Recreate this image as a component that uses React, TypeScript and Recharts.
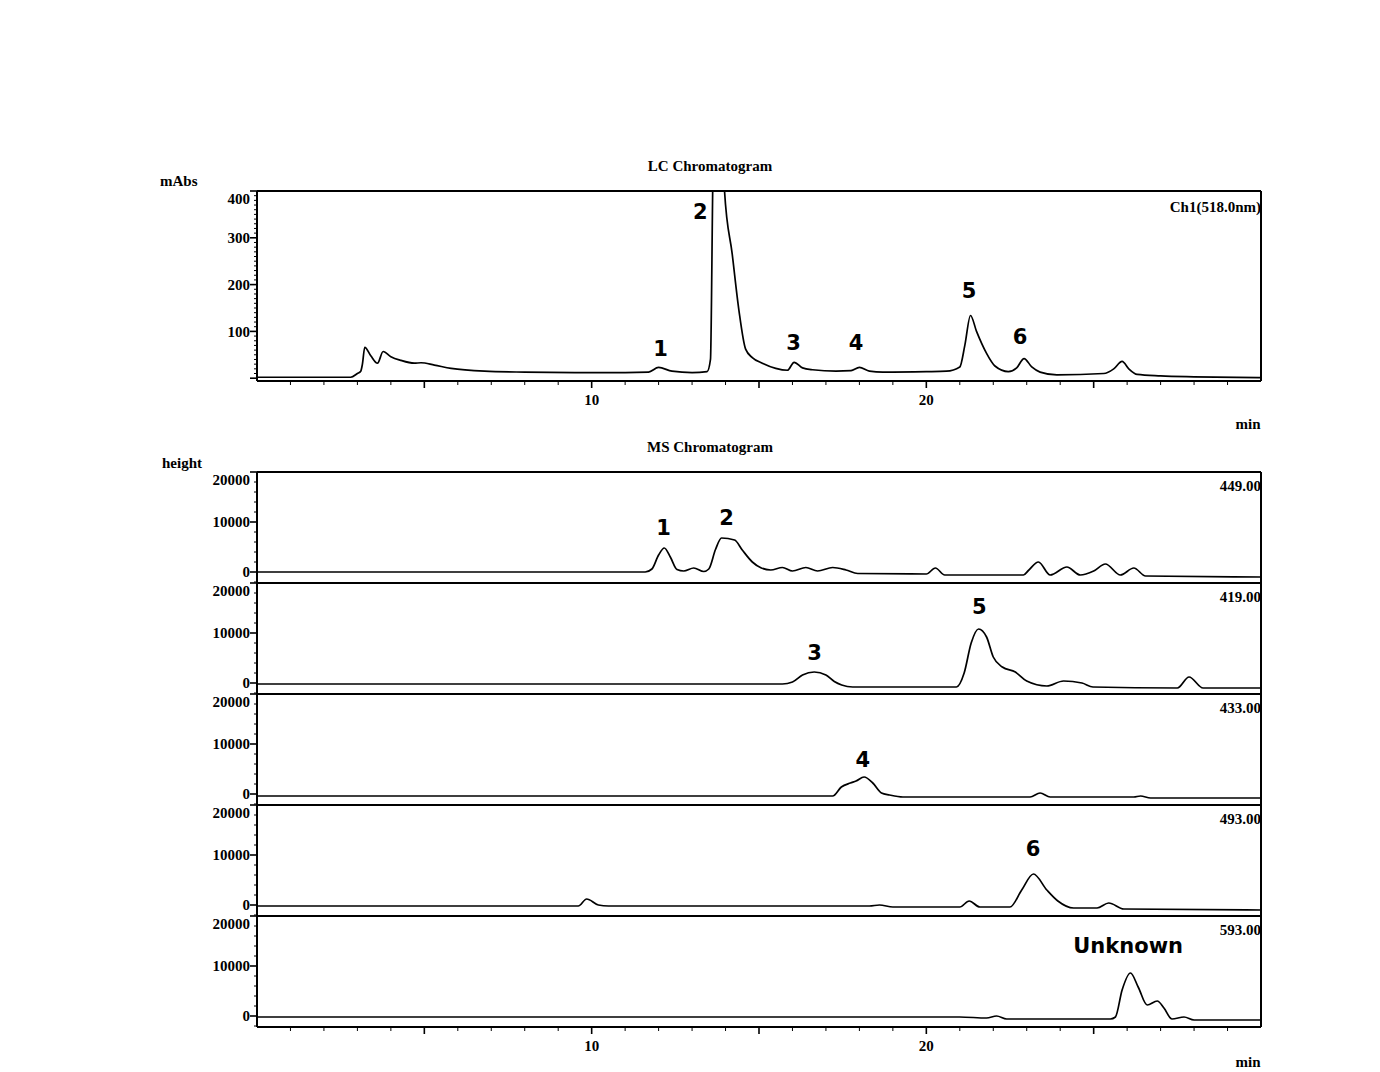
import React from "react";
import {
  LineChart,
  Line,
  XAxis,
  YAxis,
  ReferenceLine,
  ReferenceDot,
} from "recharts";

// LC trace, 518 nm (minutes / mAbs)
const lcTime = [
  0, 2.8, 3.0, 3.1, 3.15, 3.22, 3.4, 3.6, 3.77, 4.0, 4.3, 4.7, 4.9, 5.3, 5.8, 6.8, 8, 9.5, 11, 11.7,
  12.0, 12.4, 13.0, 13.45, 13.55, 13.62, 13.75, 13.85, 13.97, 14.2, 14.4, 14.6, 14.8, 15.1, 15.5,
  15.85, 16.05, 16.3, 16.6, 17.3, 17.75, 18.0, 18.3, 18.7, 20.0, 20.6, 21.0, 21.15, 21.32, 21.5,
  21.8, 22.05, 22.45, 22.7, 22.92, 23.15, 23.4, 23.9, 25.3, 25.6, 25.85, 26.05, 26.3, 27, 28, 30,
];
const lcAbs = [
  2, 2, 10, 15, 30, 66, 48, 32, 57, 46, 38, 32, 33, 28, 21, 15, 13, 12, 12, 13,
  23, 15, 12, 14, 40, 420, 850, 750, 400, 265, 145, 62, 44, 32, 21,
  17, 34, 22, 18, 15, 16, 23, 15, 13, 14, 15, 24, 70, 134, 100,
  53, 26, 14, 22, 42, 24, 13, 7, 10, 20, 36, 20, 8, 5, 3, 1,
];

// MS traces (minutes / height)
const ms449Time = [
  0, 11.6, 11.8, 12.0, 12.17, 12.35, 12.55, 12.75, 13.05, 13.35, 13.5, 13.7, 13.88, 14.27, 14.5,
  14.8, 15.07, 15.35, 15.7, 16.0, 16.4, 16.75, 17.2, 17.6, 17.95, 20.0, 20.27, 20.55, 22.9, 23.05,
  23.35, 23.7, 24.2, 24.6, 25.0, 25.35, 25.8, 26.2, 26.55, 30,
];
const ms449Height = [
  0, 0, 600, 3400, 4800, 3000, 500, 200, 800, 100, 600, 4500, 6800, 6400, 4400,
  2000, 800, 400, 900, 200, 900, 200, 900, 400, -300, -400, 800, -600, -600, 300,
  2000, -600, 1000, -600, 200, 1600, -600, 800, -800, -1000,
];

const ms419Time = [
  0, 15.7, 16.0, 16.3, 16.65, 17.0, 17.25, 17.47, 17.8, 20.9, 21.13, 21.34, 21.56, 21.8, 22.0,
  22.27, 22.66, 23.0, 23.6, 24.1, 24.65, 24.98, 27.5, 27.85, 28.27, 30,
];
const ms419Height = [
  -200, -200, 200, 1600, 2200, 1600, 300, -400, -800, -800, 2000, 8000, 10800, 9200, 5200,
  3200, 2200, 400, -600, 400, 0, -800, -1000, 1200, -1000, -1000,
];

const ms433Time = [
  0, 17.2, 17.46, 17.73, 17.9, 18.14, 18.4, 18.66, 18.9, 19.3, 23.1, 23.4, 23.7, 26.2, 26.4, 26.7, 30,
];
const ms433Height = [
  -400, -400, 1400, 2200, 2600, 3400, 2200, 200, -200, -600, -600, 200, -600, -600, -400, -800, -800,
];

const ms493Time = [
  0, 9.6, 9.85, 10.2, 10.5, 18.3, 18.6, 19.0, 21.0, 21.28, 21.6, 22.5, 22.85, 23.2, 23.6, 23.93,
  24.4, 25.1, 25.45, 25.9, 30,
];
const ms493Height = [
  -200, -200, 1200, 0, -200, -200, 0, -400, -400, 800, -400, -400, 3000, 6200, 3000, 800,
  -600, -600, 400, -800, -1000,
];

const ms593Time = [
  0, 21.0, 21.8, 22.1, 22.4, 25.5, 25.65, 25.85, 26.1, 26.33, 26.6, 26.9, 27.1, 27.34, 27.7, 28.0, 30,
];
const ms593Height = [
  -200, -200, -400, 0, -600, -600, -200, 5200, 8600, 5800, 2200, 3000, 1600, -600, -200, -800, -800,
];

// peak annotations: [label, time, level]
const lcPeaks: [string, number, number][] = [
  ["1", 12.06, 64],
  ["2", 13.25, 357],
  ["3", 16.03, 77],
  ["4", 17.9, 77],
  ["5", 21.28, 187],
  ["6", 22.8, 89],
];
const ms449Peaks: [string, number, number][] = [
  ["1", 12.15, 9000],
  ["2", 14.03, 11000],
];
const ms419Peaks: [string, number, number][] = [
  ["3", 16.66, 6200],
  ["5", 21.58, 15400],
];
const ms433Peaks: [string, number, number][] = [["4", 18.1, 7000]];
const ms493Peaks: [string, number, number][] = [["6", 23.19, 11400]];
const ms593Peaks: [string, number, number][] = [["Unknown", 26.03, 14200]];

const msChannels = ["449.00", "419.00", "433.00", "493.00", "593.00"];

const xLabels = [10, 20];
const lcYLabels = [100, 200, 300, 400];
const msYLabels = [0, 10000, 20000];

const xMinor = Array.from({ length: 29 }, (_, i) => i + 1);
const lcYMinor = Array.from({ length: 41 }, (_, i) => i * 10);
const msYMinor = Array.from({ length: 12 }, (_, i) => i * 2000 - 2000);

const SERIF = "'Liberation Serif', 'Times New Roman', serif";
const SANS = "'DejaVu Sans', Verdana, sans-serif";

const LC_TOP = 400;
const MS_TOP = 20000;
const PANEL_TOPS = [472, 583, 694, 805, 916];

const toRows = (t: number[], v: number[]) => t.map((x, i) => ({ t: x, v: v[i] }));

const makeYTick = (labels: number[], top: number, majorStep: number) => (props: any) => {
  const { x, y, payload } = props;
  const v = payload.value;
  const major = v % majorStep === 0;
  const show = labels.includes(v);
  return (
    <g>
      <line x1={x - (major ? 7 : 3)} x2={x} y1={y} y2={y} stroke="#000" strokeWidth={major ? 1.6 : 1} />
      {show && (
        <text
          x={x - 7}
          y={v === top ? y + 8 : y}
          dy="0.35em"
          textAnchor="end"
          fontFamily={SERIF}
          fontWeight="bold"
          fontSize={15}
          fill="#000"
        >
          {v}
        </text>
      )}
    </g>
  );
};

const XTick = (props: any) => {
  const { x, y, payload } = props;
  const v = payload.value;
  const major = v % 5 === 0;
  return (
    <g>
      <line x1={x} x2={x} y1={y} y2={y + (major ? 7 : 4)} stroke="#000" strokeWidth={major ? 1.6 : 1} />
      {xLabels.includes(v) && (
        <text x={x} y={y + 24} textAnchor="middle" fontFamily={SERIF} fontWeight="bold" fontSize={15} fill="#000">
          {v}
        </text>
      )}
    </g>
  );
};

const peakShape = (text: string) => (p: any) => (
  <text
    x={p.cx}
    y={p.cy}
    dy="0.36em"
    textAnchor="middle"
    fontFamily={SANS}
    fontWeight="bold"
    fontSize={21}
    fill="#000"
  >
    {text}
  </text>
);

const Txt: React.FC<{ x: number; y: number; align?: "left" | "center" | "right"; size?: number; children: React.ReactNode }> = ({
  x,
  y,
  align = "center",
  size = 15,
  children,
}) => {
  const tx = align === "center" ? "-50%" : align === "right" ? "-100%" : "0";
  return (
    <div
      style={{
        position: "absolute",
        left: x,
        top: y,
        transform: `translate(${tx}, -50%)`,
        whiteSpace: "nowrap",
        lineHeight: 1,
        fontFamily: SERIF,
        fontWeight: "bold",
        fontSize: size,
        color: "#000",
      }}
    >
      {children}
    </div>
  );
};

const MARGIN_L = 197;
const MARGIN_R = 119;

const LcChart = () => (
  <div style={{ position: "absolute", left: 0, top: 0 }}>
    <LineChart
      width={1380}
      height={440}
      data={toRows(lcTime, lcAbs)}
      margin={{ top: 191, right: MARGIN_R, bottom: 29, left: MARGIN_L }}
    >
      <XAxis
        dataKey="t"
        type="number"
        domain={[0, 30]}
        ticks={xMinor}
        interval={0}
        height={30}
        tickSize={0}
        tickMargin={0}
        tick={<XTick />}
        axisLine={{ stroke: "#000", strokeWidth: 2 }}
      />
      <YAxis
        type="number"
        domain={[-6, LC_TOP]}
        allowDataOverflow
        ticks={lcYMinor}
        interval={0}
        width={60}
        tickSize={0}
        tickMargin={0}
        tick={makeYTick(lcYLabels, LC_TOP, 100)}
        axisLine={{ stroke: "#000", strokeWidth: 2 }}
      />
      <ReferenceLine y={LC_TOP} stroke="#000" strokeWidth={2} />
      <ReferenceLine x={30} stroke="#000" strokeWidth={2} />
      <Line type="monotone" dataKey="v" stroke="#000" strokeWidth={1.7} dot={false} isAnimationActive={false} />
      {lcPeaks.map(([label, t, v]) => (
        <ReferenceDot key={label} x={t} y={v} r={0} shape={peakShape(label)} />
      ))}
    </LineChart>
  </div>
);

const MsPanel: React.FC<{
  top: number;
  time: number[];
  height: number[];
  peaks: [string, number, number][];
  last: boolean;
}> = ({ top, time, height, peaks, last }) => (
  <div style={{ position: "absolute", left: 0, top: top - 20 }}>
    <LineChart
      width={1380}
      height={181}
      data={toRows(time, height)}
      margin={{ top: 20, right: MARGIN_R, bottom: 20, left: MARGIN_L }}
    >
      <XAxis
        dataKey="t"
        type="number"
        domain={[0, 30]}
        ticks={last ? xMinor : []}
        interval={0}
        height={30}
        tickSize={0}
        tickMargin={0}
        tick={last ? <XTick /> : false}
        axisLine={{ stroke: "#000", strokeWidth: 2 }}
      />
      <YAxis
        type="number"
        domain={[-2200, MS_TOP]}
        allowDataOverflow
        ticks={msYMinor}
        interval={0}
        width={60}
        tickSize={0}
        tickMargin={0}
        tick={makeYTick(msYLabels, MS_TOP, 10000)}
        axisLine={{ stroke: "#000", strokeWidth: 2 }}
      />
      <ReferenceLine y={MS_TOP} stroke="#000" strokeWidth={2} />
      <ReferenceLine x={30} stroke="#000" strokeWidth={2} />
      <Line type="monotone" dataKey="v" stroke="#000" strokeWidth={1.7} dot={false} isAnimationActive={false} />
      {peaks.map(([label, t, v]) => (
        <ReferenceDot key={label} x={t} y={v} r={0} shape={peakShape(label)} />
      ))}
    </LineChart>
  </div>
);

const msSeries = [
  { time: ms449Time, height: ms449Height, peaks: ms449Peaks },
  { time: ms419Time, height: ms419Height, peaks: ms419Peaks },
  { time: ms433Time, height: ms433Height, peaks: ms433Peaks },
  { time: ms493Time, height: ms493Height, peaks: ms493Peaks },
  { time: ms593Time, height: ms593Height, peaks: ms593Peaks },
];

export default function App() {
  return (
    <div style={{ position: "absolute", left: 0, top: 0, width: 1380, height: 1072, background: "#fff", overflow: "hidden" }}>
      <Txt x={710} y={166}>LC Chromatogram</Txt>
      <Txt x={160} y={181} align="left">mAbs</Txt>
      <LcChart />
      <Txt x={1261} y={207} align="right">Ch1(518.0nm)</Txt>
      <Txt x={1248} y={424}>min</Txt>

      <Txt x={710} y={447}>MS Chromatogram</Txt>
      <Txt x={162} y={463} align="left">height</Txt>
      {msSeries.map((s, i) => (
        <MsPanel
          key={msChannels[i]}
          top={PANEL_TOPS[i]}
          time={s.time}
          height={s.height}
          peaks={s.peaks}
          last={i === msSeries.length - 1}
        />
      ))}
      {msChannels.map((c, i) => (
        <Txt key={c} x={1261} y={PANEL_TOPS[i] + 14} align="right">
          {c}
        </Txt>
      ))}
      <Txt x={1248} y={1062}>min</Txt>
    </div>
  );
}
